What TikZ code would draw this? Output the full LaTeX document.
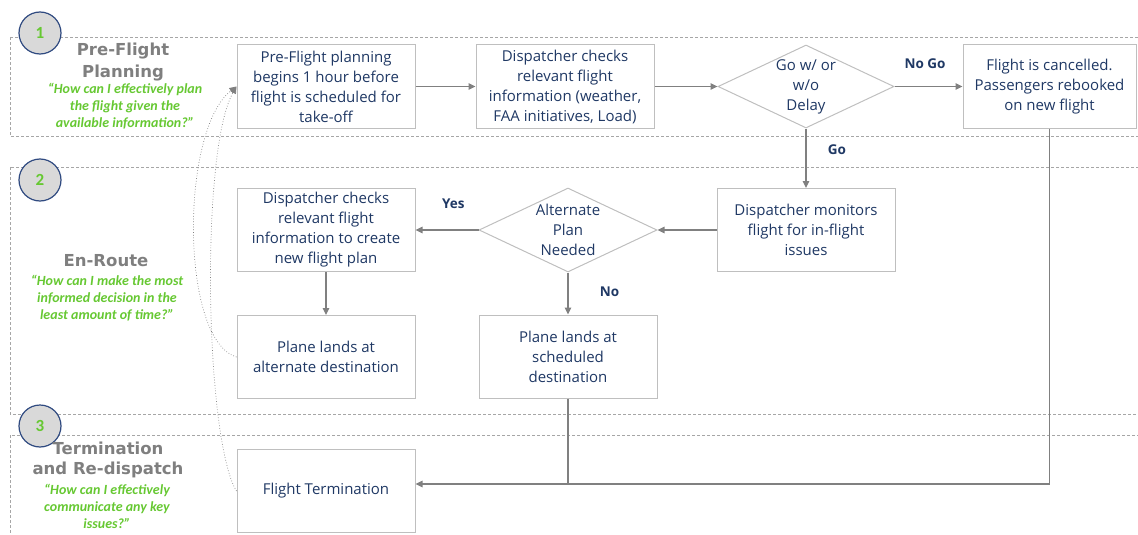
\documentclass[tikz,border=0pt]{standalone}
\usepackage{fontspec}
\setmainfont{Carlito}
\newfontfamily\titlefont{DejaVu Sans}
\newfontfamily\boxfont{Open Sans}
\usetikzlibrary{arrows.meta,shapes.geometric,calc,positioning}

\definecolor{navy}{RGB}{31,56,100}
\definecolor{boxgray}{RGB}{191,191,191}
\definecolor{linegray}{RGB}{128,128,128}
\definecolor{lanegray}{RGB}{166,166,166}
\definecolor{quotegreen}{RGB}{102,200,50}
\definecolor{titlegray}{RGB}{127,127,127}
\definecolor{numfill}{RGB}{217,217,217}
\definecolor{numedge}{RGB}{47,74,128}

\tikzset{
  lane/.style={draw=lanegray, line width=0.6pt, dash pattern=on 3pt off 2pt},
  stepnum/.style={circle, draw=numedge, line width=1.2pt, fill=numfill, minimum size=42pt, inner sep=0pt,
    text=quotegreen, font=\fontsize{17}{17}\selectfont\bfseries},
  lanetitle/.style={align=center, text=titlegray, font=\titlefont\fontsize{16.5}{22}\selectfont\bfseries},
  quote/.style={align=center, text=quotegreen, font=\fontsize{14}{17}\selectfont\bfseries\itshape},
  box/.style={draw=boxgray, line width=1pt, minimum width=178pt, minimum height=83pt, inner sep=0pt,
    align=center, text=navy, font=\boxfont\fontsize{15}{20}\selectfont},
  decision/.style={diamond, draw=boxgray, line width=1pt, minimum width=176pt, minimum height=83pt, inner sep=0pt},
  dtext/.style={align=center, text=navy, font=\boxfont\fontsize{15}{20}\selectfont},
  conn/.style={draw=linegray, line width=1.2pt},
  arr/.style={conn, -{Triangle[length=7pt,width=6.5pt]}},
  dotcurve/.style={draw=linegray, line width=0.7pt, dotted, -{Triangle[length=7pt,width=6.5pt]}},
  lbl/.style={text=navy, font=\boxfont\fontsize{13.5}{13.5}\selectfont\bfseries}
}

\begin{document}
\begin{tikzpicture}[x=1pt,y=-1pt]
	\useasboundingbox (0,0) rectangle (1138,535);
	
	% swim lanes
	\draw[lane] (10,37) rectangle (1150,136);
	\draw[lane] (10,167) rectangle (1150,414);
	\draw[lane] (10,435) rectangle (1150,550);
	
	\node[stepnum] (n1) at (40,33) {1};
	\node[stepnum] (n2) at (40,180) {2};
	\node[stepnum] (n3) at (40,426) {3};
	
	\node[lanetitle] (t1) at (123,62) {Pre-Flight\\Planning};
	\node[quote] (q1) at (125,106) {“How can I effectively plan\\the flight given the\\available information?”};
	\node[lanetitle] (t2) at (106,261) {En-Route};
	\node[quote] (q2) at (107,298) {“How can I make the most\\informed decision in the\\least amount of time?”};
	\node[lanetitle, font=\titlefont\fontsize{16.5}{20}\selectfont\bfseries] (t3) at (108,460) {Termination\\and Re-dispatch};
	\node[quote] (q3) at (107,506) {“How can I effectively\\communicate any key\\issues?”};
	
	% flow
	\node[box] (plan) at (326,86.5) {Pre-Flight planning\\begins 1 hour before\\flight is scheduled for\\take-off};
	\node[box] (check) at (565,86.5) {Dispatcher checks\\relevant flight\\information (weather,\\FAA initiatives, Load)};
	\node[decision] (go) at (806,86.5) {};
	\node[dtext] at (go) {Go w/ or\\w/o\\Delay};
	\node[box, minimum width=173pt] (cancel) at (1049.5,86.5) {Flight is cancelled.\\Passengers rebooked\\on new flight};
	
	\node[box] (monitor) at (806,230) {Dispatcher monitors\\flight for in-flight\\issues};
	\node[decision, minimum width=178pt, minimum height=84pt] (alt) at (568,230) {};
	\node[dtext] at (alt) {Alternate\\Plan\\Needed};
	\node[box] (replan) at (326,230) {Dispatcher checks\\relevant flight\\information to create\\new flight plan};
	\node[box] (altland) at (326,357) {Plane lands at\\alternate destination};
	\node[box] (schedland) at (568,356.5) {Plane lands at\\scheduled\\destination};
	\node[box] (term) at (326,491) {Flight Termination};
	
	\coordinate (join) at (cancel.south |- 0,484);
	
	\draw[arr] (plan) -- (check);
	\draw[arr] (check) -- (go.west);
	\draw[arr] (go.east) -- node[lbl, pos=0.45, above=14pt] {No Go} (cancel);
	\draw[arr] (go.south) -- node[lbl, pos=0.35, right=18pt] {Go} (monitor);
	\draw[arr] (monitor) -- (alt.east);
	\draw[arr] (alt.west) -- node[lbl, pos=0.4, above=17pt] {Yes} (replan);
	\draw[arr] (alt.south) -- node[lbl, pos=0.45, right=28pt] {No} (schedland);
	\draw[arr] (replan) -- (altland);
	\draw[conn] (cancel.south) -- (join);
	\draw[conn] (schedland.south) -- (schedland.south |- join);
	\draw[arr] (join) -- ($(term.east)+(0,-7)$);
	
	% feedback to planning
	\draw[dotcurve] (altland.west) .. controls (180,340) and (180,130) .. (plan.west);
	\draw[dotcurve] (term.west) .. controls (205,440) and (200,150) .. (plan.west);
	
\end{tikzpicture}
\end{document}
